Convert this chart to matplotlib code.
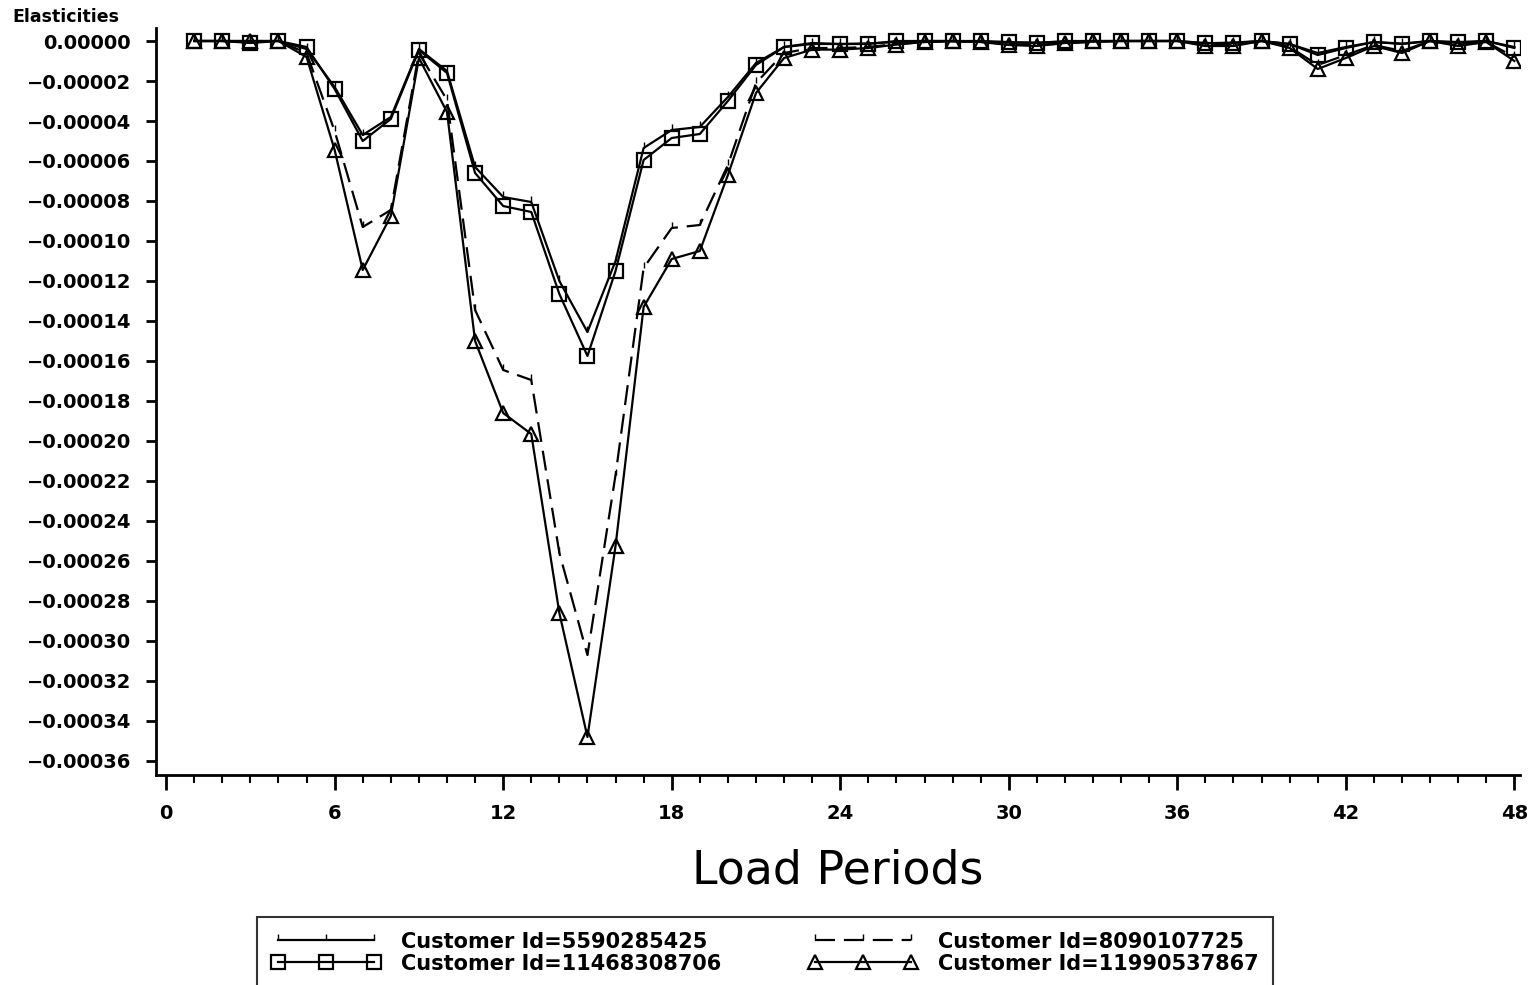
import numpy as np
import matplotlib
matplotlib.use("Agg")
import matplotlib.pyplot as plt
from matplotlib.ticker import MultipleLocator, FuncFormatter

# data (elasticities, in units of 1e-5)
periods = np.arange(1, 49)
scale = 1e-5

cust_5590285425 = [0, 0, 0, 0, -0.4, -2.3, -4.7, -3.8, -0.4, -1.5, -6.3, -7.8,
                   -8.05, -12.0, -14.55, -11.0, -5.35, -4.45, -4.3, -2.8, -1.1, -0.3, -0.15, -0.15,
                   -0.12, -0.05, 0, 0, -0.03, -0.08, -0.08, -0.06, -0.03, 0, 0, 0,
                   -0.12, -0.08, 0, -0.15, -0.6, -0.3, -0.05, -0.15, 0, -0.1, 0, -0.3]
cust_8090107725 = [0, 0, -0.05, 0, -0.6, -4.5, -9.3, -8.45, -0.6, -2.95, -13.45, -16.45,
                   -16.95, -25.6, -30.7, -21.7, -11.35, -9.35, -9.2, -6.2, -2.1, -0.6, -0.35, -0.35,
                   -0.3, -0.15, -0.05, 0, -0.05, -0.15, -0.2, -0.12, -0.05, 0, 0, 0,
                   -0.2, -0.2, 0, -0.3, -1.2, -0.7, -0.2, -0.5, 0, -0.2, -0.05, -0.8]
cust_11468308706 = [0, 0, -0.1, 0, -0.3, -2.4, -5.0, -3.9, -0.45, -1.6, -6.6, -8.25,
                    -8.55, -12.65, -15.75, -11.5, -5.95, -4.85, -4.65, -3.0, -1.2, -0.3, -0.1, -0.15,
                    -0.15, 0, 0, 0, 0, -0.05, -0.1, 0, 0, 0, 0, 0,
                    -0.1, -0.1, 0, -0.15, -0.7, -0.35, -0.05, -0.13, 0, -0.05, 0, -0.35]
cust_11990537867 = [0, 0, 0, 0, -0.8, -5.45, -11.45, -8.75, -0.85, -3.55, -15.0, -18.6,
                    -19.65, -28.6, -34.8, -25.25, -13.3, -10.9, -10.5, -6.7, -2.6, -0.85, -0.43, -0.43,
                    -0.35, -0.18, -0.05, -0.02, -0.05, -0.2, -0.25, -0.1, 0, 0, 0, 0,
                    -0.25, -0.25, 0, -0.35, -1.4, -0.85, -0.25, -0.6, 0, -0.25, -0.05, -1.0]

labels = ["Customer Id=5590285425", "Customer Id=8090107725",
          "Customer Id=11468308706", "Customer Id=11990537867"]

plt.rcParams['font.family'] = ['DejaVu Sans']

fig = plt.figure(figsize=(15.35, 9.85), dpi=100)
ax = fig.add_axes([156 / 1535, 1 - 775 / 985, (1520 - 156) / 1535, (775 - 28) / 985])

lw = 1.6
h1, = ax.plot(periods, np.array(cust_5590285425) * scale, color="black", lw=lw,
              marker=2, markersize=4, markeredgewidth=1.0, label=labels[0])
h2, = ax.plot(periods, np.array(cust_8090107725) * scale, color="black", lw=lw,
              dashes=(9, 4), marker=2, markersize=4, markeredgewidth=1.0, label=labels[1])
h3, = ax.plot(periods, np.array(cust_11468308706) * scale, color="black", lw=lw,
              marker="s", markersize=10, fillstyle="none", markeredgewidth=1.6, label=labels[2])
h4, = ax.plot(periods, np.array(cust_11990537867) * scale, color="black", lw=lw,
              marker="^", markersize=10, fillstyle="none", markeredgewidth=1.6, label=labels[3])

ax.set_xlim(-0.36, 48.2)
ax.set_ylim(-36.7 * scale, 0.65 * scale)

for side in ["top", "right"]:
    ax.spines[side].set_visible(False)
for side in ["left", "bottom"]:
    ax.spines[side].set_linewidth(2.0)

ax.xaxis.set_major_locator(MultipleLocator(6))
ax.xaxis.set_minor_locator(MultipleLocator(1))
ax.yaxis.set_major_locator(MultipleLocator(2 * scale))


def yfmt(v, pos):
    v = round(v / scale) * scale
    if abs(v) < 1e-12:
        return "0.00000"
    return f"{v:.5f}".replace("-", "\u2212")


ax.yaxis.set_major_formatter(FuncFormatter(yfmt))
ax.tick_params(axis="y", which="major", direction="out", length=7, width=2, pad=11,
               labelsize=14)
ax.tick_params(axis="x", which="major", direction="out", length=11, width=2, pad=10,
               labelsize=14)
ax.tick_params(axis="x", which="minor", direction="out", length=6, width=1.5)
for lab in ax.get_xticklabels() + ax.get_yticklabels():
    lab.set_fontweight("bold")

ax.set_xlabel("Load Periods", fontsize=33, labelpad=18)
fig.text(12 / 1535, 1 - 17 / 985, "Elasticities", fontsize=12.5, fontweight="bold",
         ha="left", va="center")

leg = fig.legend(handles=[h1, h3, h2, h4], loc="upper left",
                 bbox_to_anchor=(257 / 1535, 1 - 917 / 985), ncol=2,
                 prop={"size": 15, "weight": "bold"}, numpoints=3,
                 handlelength=5.2, handletextpad=1.0, columnspacing=4.2,
                 labelspacing=0.1, borderpad=0.7, borderaxespad=0,
                 frameon=True, fancybox=False, edgecolor="black")
leg.get_frame().set_linewidth(1.5)

fig.savefig("out.png", dpi=100)
